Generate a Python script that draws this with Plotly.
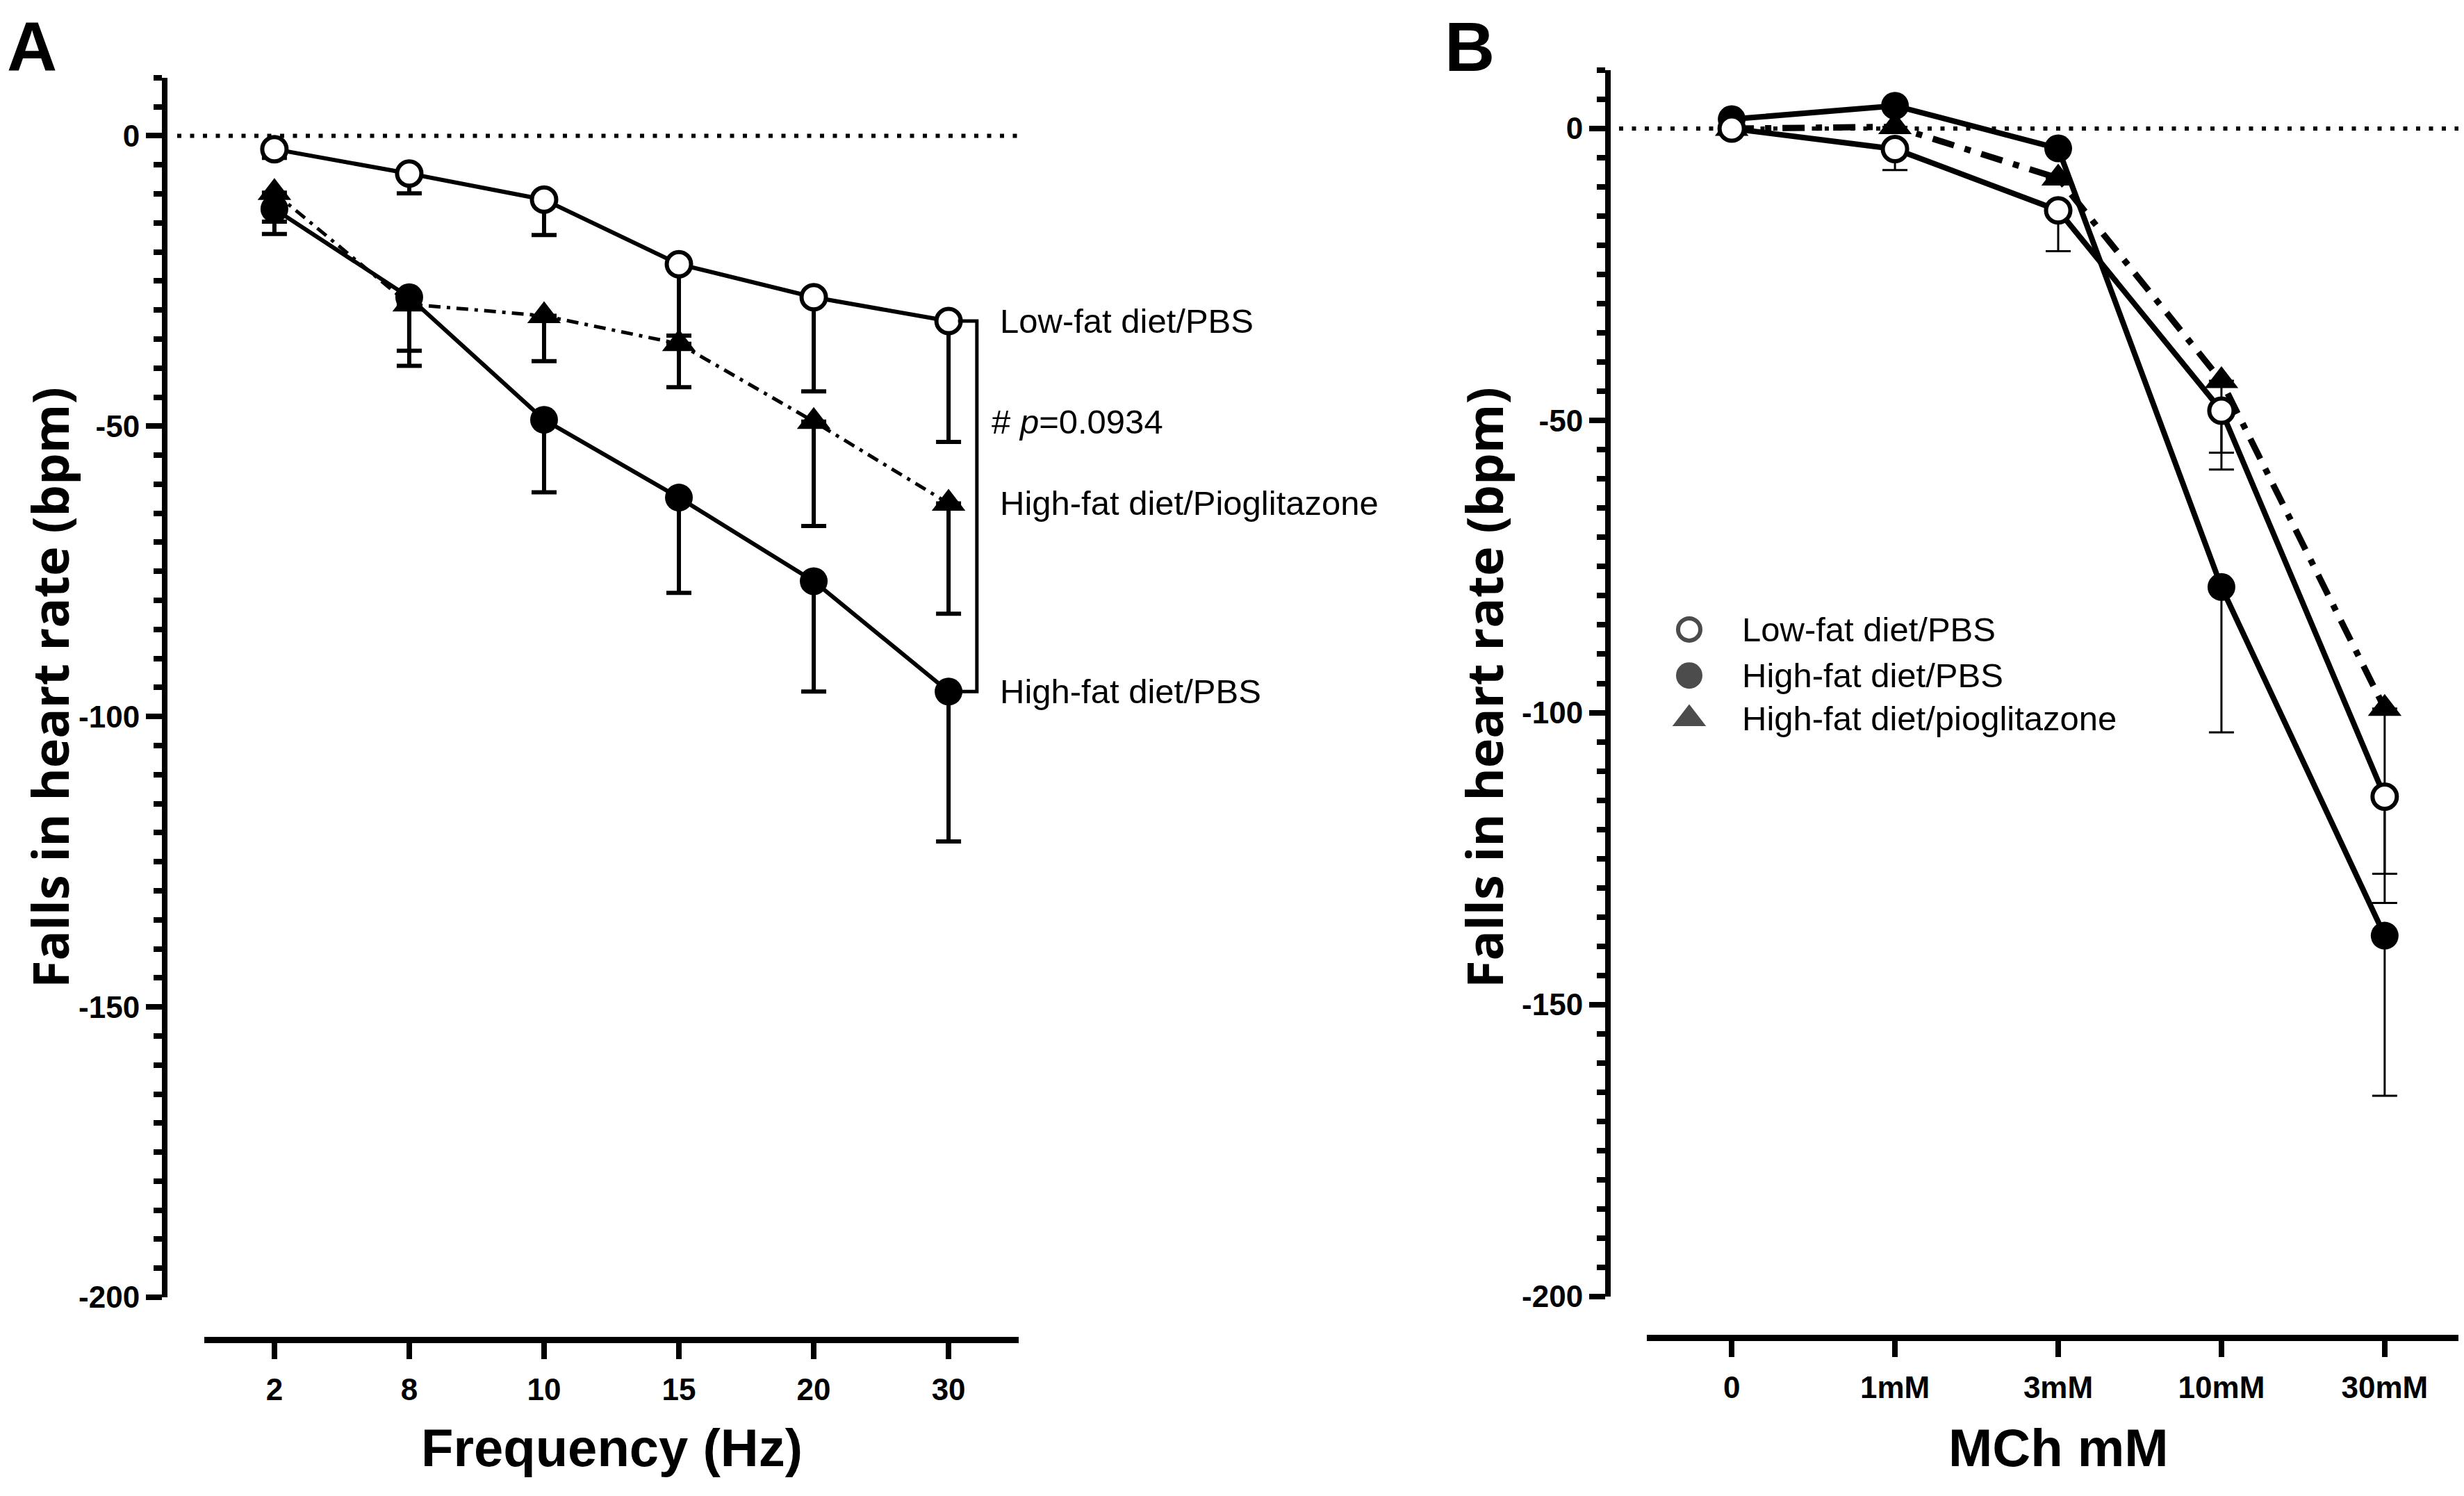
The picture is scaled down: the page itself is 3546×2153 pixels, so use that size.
import plotly.graph_objects as go

W, H = 3546, 2153

# ── data ─────────────────────────────────────────────────────────────────────
# panel A: falls in heart rate vs stimulation frequency (mean, lower SEM)
freq_labels = ["2", "8", "10", "15", "20", "30"]
a_lowfat = [-2.3, -6.5, -11.0, -22.1, -27.8, -31.9]
a_lowfat_sem = [1.5, 3.4, 6.1, 12.3, 16.2, 20.8]
a_hfd = [-12.6, -27.8, -48.9, -62.3, -76.7, -95.7]
a_hfd_sem = [4.3, 11.8, 12.5, 16.4, 19.0, 25.8]
a_pio = [-9.8, -29.0, -31.0, -35.8, -49.2, -63.3]
a_pio_sem = [5.0, 8.0, 7.8, 7.5, 18.0, 19.0]

# panel B: falls in heart rate vs methacholine dose
mch_labels = ["0", "1mM", "3mM", "10mM", "30mM"]
b_lowfat = [0.0, -3.5, -14.0, -48.3, -114.4]
b_lowfat_sem = [0.0, 3.6, 7.0, 10.1, 18.2]
b_hfd = [1.6, 3.9, -3.4, -78.5, -138.2]
b_hfd_sem = [0.0, 0.0, 0.0, 24.9, 27.4]
b_pio = [0.0, 0.3, -8.5, -43.2, -99.3]
b_pio_sem = [0.0, 0.0, 0.0, 12.3, 28.3]

y_ticks = [0, -50, -100, -150, -200]
y_ticktext = ["0", "-50", "-100", "-150", "-200"]
p_text = "# <i>p</i>=0.0934"
p_level = -49.3

# ── helpers ──────────────────────────────────────────────────────────────────
ARIAL = "Liberation Sans"


def px(x):
    return x / W


def py(y):
    return 1 - y / H


def err(sem, thick, half):
    return dict(type="data", symmetric=False, array=[0] * len(sem), arrayminus=sem,
                color="black", thickness=thick, width=half)


fig = go.Figure()

# ── panel A ──────────────────────────────────────────────────────────────────
fig.add_trace(go.Scatter(x=freq_labels, y=a_pio, mode="lines+markers", xaxis="x", yaxis="y",
                         line=dict(color="black", width=5, dash="17px,9px,5px,9px"),
                         marker=dict(symbol="triangle-up", size=42, color="black"),
                         error_y=err(a_pio_sem, 6, 18), showlegend=False))
fig.add_trace(go.Scatter(x=freq_labels, y=a_hfd, mode="lines+markers", xaxis="x", yaxis="y",
                         line=dict(color="black", width=6),
                         marker=dict(symbol="circle", size=40, color="black"),
                         error_y=err(a_hfd_sem, 6, 18), showlegend=False))
fig.add_trace(go.Scatter(x=freq_labels, y=a_lowfat, mode="lines+markers", xaxis="x", yaxis="y",
                         line=dict(color="black", width=6),
                         marker=dict(symbol="circle", size=35, color="white",
                                     line=dict(color="black", width=6)),
                         error_y=err(a_lowfat_sem, 6, 18), showlegend=False))

# ── panel B ──────────────────────────────────────────────────────────────────
fig.add_trace(go.Scatter(x=mch_labels, y=b_pio, mode="lines+markers", xaxis="x2", yaxis="y2",
                         line=dict(color="black", width=9, dash="32px,16px,9px,16px"),
                         marker=dict(symbol="triangle-up", size=42, color="black"),
                         error_y=err(b_pio_sem, 3, 18), showlegend=False))
fig.add_trace(go.Scatter(x=mch_labels, y=b_hfd, mode="lines+markers", xaxis="x2", yaxis="y2",
                         line=dict(color="black", width=8),
                         marker=dict(symbol="circle", size=40, color="black"),
                         error_y=err(b_hfd_sem, 3, 18), showlegend=False))
fig.add_trace(go.Scatter(x=mch_labels, y=b_lowfat, mode="lines+markers", xaxis="x2", yaxis="y2",
                         line=dict(color="black", width=8),
                         marker=dict(symbol="circle", size=35, color="white",
                                     line=dict(color="black", width=6)),
                         error_y=err(b_lowfat_sem, 3, 18), showlegend=False))

# legend keys for panel B (drawn on a pixel-space overlay)
legend_names = ["Low-fat diet/PBS", "High-fat diet/PBS", "High-fat diet/pioglitazone"]
legend_rows = [908, 975, 1038]
fig.add_trace(go.Scatter(x=[2423] * 3, y=legend_rows, mode="markers", xaxis="x3", yaxis="y3",
                         marker=dict(symbol=["circle", "circle", "triangle-up"], size=[32, 38, 42],
                                     color=["white", "black", "black"],
                                     line=dict(color="black", width=[6, 0, 0])),
                         showlegend=False, hoverinfo="skip"))

# ── axes ─────────────────────────────────────────────────────────────────────
tickfont = dict(family=ARIAL, size=44, color="black", weight="bold")


def yaxis_style(pos, dom):
    return dict(anchor="free", position=pos, domain=dom, range=[-200, 10],
                tickvals=y_ticks, ticktext=y_ticktext, ticks="outside", ticklen=23,
                tickwidth=8, tickcolor="black",
                showline=True, linewidth=8, linecolor="black", showgrid=False, zeroline=False,
                tickfont=tickfont,
                minor=dict(dtick=5, tick0=0, ticks="outside", ticklen=12, tickwidth=8,
                           tickcolor="black", showgrid=False))


def xaxis_style(pos, dom, n, cats):
    return dict(anchor="free", position=pos, domain=dom, type="category",
                categoryorder="array", categoryarray=cats, range=[-0.52, n - 1 + 0.52],
                ticks="outside", ticklen=23, tickwidth=8, tickcolor="black",
                showline=True, linewidth=9, linecolor="black", showgrid=False, zeroline=False,
                tickfont=tickfont, ticklabelstandoff=6)


fig.update_layout(
    width=W, height=H, margin=dict(l=0, r=0, t=0, b=0),
    paper_bgcolor="white", plot_bgcolor="rgba(0,0,0,0)",
    xaxis=xaxis_style(py(1942), [px(286), px(1458)], len(freq_labels), freq_labels),
    yaxis=yaxis_style(px(229), [py(1880), py(105)]),
    xaxis2=xaxis_style(py(1939), [px(2362), 1.0], len(mch_labels), mch_labels),
    yaxis2=yaxis_style(px(2306), [py(1879), py(94)]),
    xaxis3=dict(domain=[0, 1], range=[0, W], anchor="y3", visible=False),
    yaxis3=dict(domain=[0, 1], range=[H, 0], anchor="x3", visible=False),
)

# reference lines at 0 and the significance bracket
last = len(freq_labels) - 1
fig.add_shape(type="line", xref="paper", yref="y", x0=px(247), x1=px(1458), y0=0, y1=0,
              line=dict(color="black", width=6, dash="6px,12.5px"), layer="below")
fig.add_shape(type="line", xref="paper", yref="y2", x0=px(2322), x1=1.0, y0=0, y1=0,
              line=dict(color="black", width=6, dash="6px,12.5px"), layer="below")
bx0, bx1 = last + 0.07, last + 0.21
fig.add_shape(type="path", xref="x", yref="y",
              path=f"M {bx0},{a_lowfat[-1]} L {bx1},{a_lowfat[-1]} L {bx1},{a_hfd[-1]} L {bx0},{a_hfd[-1]}",
              line=dict(color="black", width=5))

# ── text ─────────────────────────────────────────────────────────────────────
label_font = dict(family=ARIAL, size=49, color="black")
for txt, yv in [("Low-fat diet/PBS", a_lowfat[-1]), ("High-fat diet/Pioglitazone", a_pio[-1]),
                ("High-fat diet/PBS", a_hfd[-1])]:
    fig.add_annotation(x=last + 0.37, y=yv, xref="x", yref="y", text=txt, showarrow=False,
                       xanchor="left", yanchor="middle", font=label_font)
fig.add_annotation(x=last + 0.31, y=p_level, xref="x", yref="y",
                   text=p_text, showarrow=False, xanchor="left", yanchor="middle", font=label_font)

for txt, yv in zip(legend_names, legend_rows):
    fig.add_annotation(x=2497, y=yv, xref="x3", yref="y3", text=txt, showarrow=False,
                       xanchor="left", yanchor="middle", font=label_font)

title_font = dict(family=ARIAL, size=76, color="black", weight="bold")
fig.add_annotation(x=px(872), y=py(2099), xref="paper", yref="paper", text="Frequency (Hz)",
                   showarrow=False, xanchor="center", yanchor="middle", font=title_font)
fig.add_annotation(x=px(2954), y=py(2099), xref="paper", yref="paper", text="MCh mM",
                   showarrow=False, xanchor="center", yanchor="middle", font=title_font)

ytitle_font = dict(family="Open Sans", size=72, color="black", weight="bold")
for xc in [63, 2127]:
    fig.add_annotation(x=px(xc), y=py(993), xref="paper", yref="paper",
                       text="Falls in heart rate (bpm)", textangle=-90, showarrow=False,
                       xanchor="center", yanchor="middle", font=ytitle_font)

panel_font = dict(family=ARIAL, size=100, color="black", weight="bold")
fig.add_annotation(x=px(38), y=py(60), xref="paper", yref="paper", text="A", showarrow=False,
                   xanchor="center", yanchor="middle", font=panel_font)
fig.add_annotation(x=px(2107), y=py(60), xref="paper", yref="paper", text="B", showarrow=False,
                   xanchor="center", yanchor="middle", font=panel_font)

fig.write_html("out.html")
